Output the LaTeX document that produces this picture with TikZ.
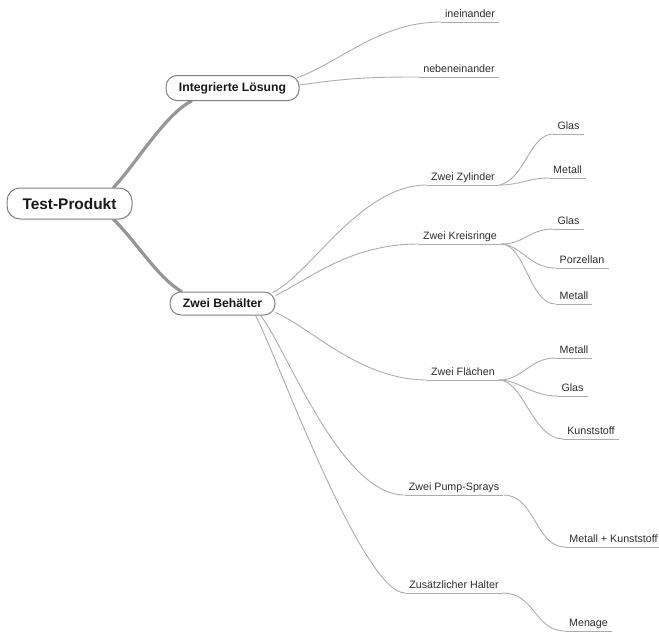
\documentclass[tikz,border=0pt]{standalone}
\usepackage{fontspec}
\setmainfont{Liberation Sans}
\usetikzlibrary{calc}
\pgfdeclarelayer{bg}
\pgfsetlayers{bg,main}
\definecolor{linegray}{RGB}{172,172,172}
\definecolor{branchgray}{RGB}{150,150,150}
\definecolor{bordergray}{RGB}{128,128,128}
\definecolor{textdark}{RGB}{45,45,45}
\begin{document}
\begin{tikzpicture}[x=1pt,y=-1pt,
  rootbox/.style={draw=bordergray, line width=1pt, fill=white, rounded corners=13pt, minimum width=125pt, minimum height=31pt, inner sep=0pt, font=\fontsize{15.4}{18}\selectfont\bfseries, text=black!90},
  mainbox/.style={draw=bordergray, line width=1pt, fill=white, rounded corners=11pt, minimum height=25pt, inner sep=0pt, font=\fontsize{12.2}{14}\selectfont\bfseries, text=black!90},
  leaf/.style={anchor=south, inner xsep=4pt, inner ysep=2pt, text height=8pt, text depth=2.5pt, font=\fontsize{10.7}{12}\selectfont, text=textdark},
  uline/.style={draw=linegray, line width=1pt},
  conn/.style={draw=linegray, line width=0.9pt},
  branch/.style={draw=branchgray, line width=3.2pt, line cap=round}
]
\useasboundingbox (0,0) rectangle (659,632);

% main nodes
\node[rootbox] (T) at (69.5,203.5) {Test-Produkt};
\node[mainbox, minimum width=133pt] (I) at (232.5,88) {Integrierte Lösung};
\node[mainbox, minimum width=105pt, minimum height=23pt] (B) at (222.5,303.5) {Zwei Behälter};

% leaves
\node[leaf] (l1) at (470,22) {ineinander};
\node[leaf] (l2) at (459,77) {nebeneinander};
\node[leaf] (zy) at (463,185) {Zwei Zylinder};
\node[leaf] (zyg) at (568.5,134) {Glas};
\node[leaf] (zym) at (567.5,178) {Metall};
\node[leaf] (kr) at (460,244) {Zwei Kreisringe};
\node[leaf] (krg) at (568.5,229) {Glas};
\node[leaf] (krp) at (582,268) {Porzellan};
\node[leaf] (krm) at (574,304) {Metall};
\node[leaf] (fl) at (463,380) {Zwei Flächen};
\node[leaf] (flm) at (574,358) {Metall};
\node[leaf] (flg) at (572.5,396) {Glas};
\node[leaf] (flk) at (591,439) {Kunststoff};
\node[leaf] (ps) at (454,495) {Zwei Pump-Sprays};
\node[leaf] (psm) at (613.5,547) {Metall + Kunststoff};
\node[leaf] (zh) at (454,593) {Zusätzlicher Halter};
\node[leaf] (zhm) at (588.5,631) {Menage};

\begin{pgfonlayer}{bg}
% thick branches
\draw[branch] ($(T.north east)+(-19,0)$) .. controls +(22,-23) and +(-27,14) .. ($(I.south west)+(26,0)$);
\draw[branch] ($(T.south east)+(-19,0)$) .. controls +(22,21) and +(-24,-14) .. ($(B.north west)+(12,0)$);

% underlines
\foreach \n in {l1,l2,zy,zyg,zym,kr,krg,krp,krm,fl,flm,flg,flk,ps,psm,zh,zhm}{
  \draw[uline] (\n.south west) -- (\n.south east);
}

% level 2
\draw[conn] ($(I.east)+(-3,-10)$) .. controls +(44,-16) and +(-61,0) .. (l1.south west);
\draw[conn] ($(I.east)+(0,-3)$) .. controls +(50,-7) and +(-50,0) .. (l2.south west);

\draw[conn] ($(B.north east)+(-3,1)$) .. controls +(38,-18) and +(-67,0) .. (zy.south west);
\draw[conn] ($(B.east)+(0,-8)$) .. controls +(35,-17) and +(-69,0) .. (kr.south west);
\draw[conn] ($(B.east)+(0,9)$) .. controls +(35,15) and +(-67,0) .. (fl.south west);
\draw[conn] ($(B.south east)+(-15,0)$) .. controls +(25,30) and +(-65,0) .. (ps.south west);
\draw[conn] ($(B.south east)+(-20,0)$) .. controls +(17,29) and +(-44,0) .. (zh.south west);

% level 3
\draw[conn] (zy.south east) .. controls +(26,-5) and +(-24,0) .. (zyg.south west);
\draw[conn] (zy.south east) .. controls +(21,0) and +(-20,0) .. (zym.south west);
\draw[conn] (kr.south east) .. controls +(24,0) and +(-24,0) .. (krg.south west);
\draw[conn] (kr.south east) .. controls +(19,0) and +(-26,0) .. (krp.south west);
\draw[conn] (kr.south east) .. controls +(24,0) and +(-26,0) .. (krm.south west);
\draw[conn] (fl.south east) .. controls +(24,0) and +(-26,0) .. (flm.south west);
\draw[conn] (fl.south east) .. controls +(20,0) and +(-26,0) .. (flg.south west);
\draw[conn] (fl.south east) .. controls +(24,0) and +(-30,0) .. (flk.south west);
\draw[conn] (ps.south east) .. controls +(32,0) and +(-30,0) .. (psm.south west);
\draw[conn] (zh.south east) .. controls +(32,0) and +(-30,0) .. (zhm.south west);
\end{pgfonlayer}
\end{tikzpicture}
\end{document}
